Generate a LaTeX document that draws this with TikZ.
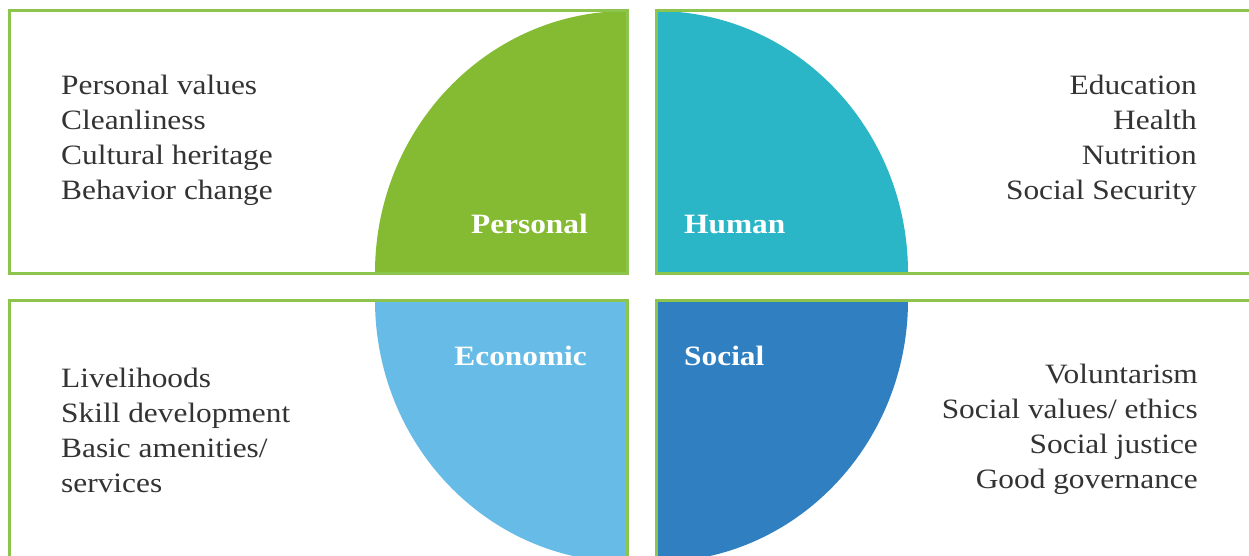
\documentclass[tikz,border=0pt]{standalone}
\usepackage{fontspec}
\setmainfont{Liberation Serif}[FakeStretch=1.12]
\definecolor{bordergreen}{HTML}{8DC44E}
\definecolor{cpersonal}{HTML}{84BB32}
\definecolor{chuman}{HTML}{2BB6C8}
\definecolor{ceconomic}{HTML}{66BCE6}
\definecolor{csocial}{HTML}{2F7FC1}
\definecolor{txt}{HTML}{333333}
\tikzset{
  panel/.style={draw=bordergreen, line width=3pt},
  listtext/.style={inner sep=0pt, text=txt, font=\fontsize{28}{35}\selectfont},
  label/.style={inner sep=0pt, text=white, font=\fontsize{28}{35}\selectfont\bfseries},
}
\begin{document}
\begin{tikzpicture}[x=1pt,y=-1pt]
\useasboundingbox (0,0) rectangle (1249,556);
\clip (0,0) rectangle (1249,556);
\fill[white] (0,0) rectangle (1249,556);
% quarter ellipses
\begin{scope}
\clip (375,11) rectangle (627,273);
\fill[cpersonal] (627,273) ellipse [x radius=252, y radius=262];
\end{scope}
\begin{scope}
\clip (656,11) rectangle (908,273);
\fill[chuman] (656,273) ellipse [x radius=252, y radius=262];
\end{scope}
\begin{scope}
\clip (375,300) rectangle (627,565);
\fill[ceconomic] (627,300) ellipse [x radius=252, y radius=262];
\end{scope}
\begin{scope}
\clip (656,300) rectangle (908,565);
\fill[csocial] (656,300) ellipse [x radius=252, y radius=262];
\end{scope}
% panels
\draw[panel] (9,11) rectangle (627,273);
\draw[panel] (656,11) rectangle (1270,273);
\draw[panel] (9,300) rectangle (627,580);
\draw[panel] (656,300) rectangle (1270,580);
% lists (base anchor = baseline of last line)
\node[listtext, anchor=base west, align=left] (tl) at (61,200)
  {Personal values\\Cleanliness\\Cultural heritage\\Behavior change};
\node[listtext, anchor=base east, align=right] (tr) at (1197,200)
  {Education\\Health\\Nutrition\\Social Security};
\node[listtext, anchor=base west, align=left] (bl) at (61,492)
  {Livelihoods\\Skill development\\Basic amenities/\\services};
\node[listtext, anchor=base east, align=right] (br) at (1198,488)
  {Voluntarism\\Social values/ ethics\\Social justice\\Good governance};
% labels
\node[label, anchor=base east] (lp) at (588,233) {Personal};
\node[label, anchor=base west] (lh) at (684,233) {Human};
\node[label, anchor=base east] (le) at (587,365) {Economic};
\node[label, anchor=base west] (ls) at (684,365) {Social};
\end{tikzpicture}
\end{document}
